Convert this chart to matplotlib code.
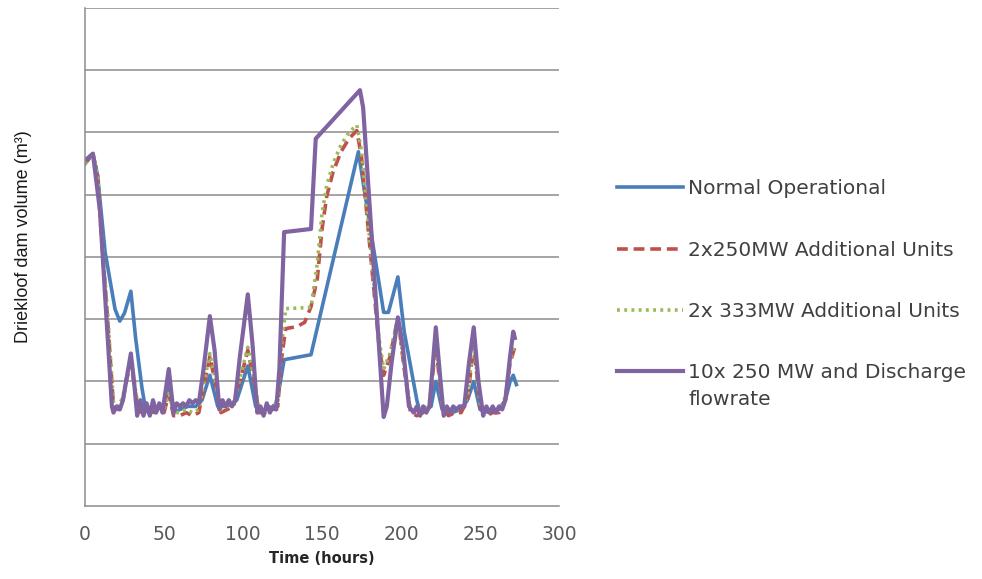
import matplotlib.pyplot as plt

# hours / volume (in gridline units, 0..8)
normal_h = [0, 5, 8, 12.7, 19, 22, 25, 29, 32, 36, 38, 40, 42, 44, 46, 49, 53, 56, 60, 65, 70, 74,
            79, 84, 90, 96, 103, 108, 112, 116, 120, 123, 126, 143, 173, 176, 189, 192, 198, 202,
            210, 212, 216, 219, 222, 226, 232, 238, 242, 246, 250, 256, 262, 266, 269, 271, 273]
normal_v = [5.5, 5.66, 5.3, 4.08, 3.16, 2.97, 3.1, 3.45, 2.7, 1.9, 1.6, 1.5, 1.6, 1.5, 1.6, 1.55,
            1.9, 1.5, 1.55, 1.6, 1.6, 1.7, 2.1, 1.6, 1.6, 1.7, 2.25, 1.6, 1.5, 1.6, 1.55, 1.9, 2.35,
            2.43, 5.69, 5.2, 3.11, 3.11, 3.68, 2.8, 1.7, 1.5, 1.55, 1.6, 2.0, 1.55, 1.5, 1.55, 1.7,
            2.0, 1.55, 1.5, 1.55, 1.7, 2.0, 2.1, 1.95]

add250_h = [0, 5, 8, 10, 14, 18, 21, 24, 26, 29, 32, 34, 38, 42, 46, 50, 53, 56, 60, 64, 68, 72, 75,
            79, 83, 86, 90, 94, 98, 103, 107, 110, 114, 118, 122, 124, 127, 134, 139, 143, 147, 150,
            153, 157, 162, 167, 172, 175, 186, 189, 193, 198, 202, 206, 210, 214, 218, 222, 226,
            230, 234, 238, 242, 246, 250, 254, 258, 262, 266, 269, 272]
add250_v = [5.5, 5.66, 5.3, 4.45, 3.1, 1.6, 1.55, 1.7, 2.0, 2.3, 1.8, 1.5, 1.55, 1.5, 1.55, 1.5, 1.8,
            1.45, 1.45, 1.5, 1.45, 1.5, 1.9, 2.4, 1.9, 1.5, 1.55, 1.6, 2.0, 2.5, 2.0, 1.5, 1.5, 1.55,
            1.6, 2.3, 2.85, 2.88, 2.95, 3.2, 3.65, 4.45, 4.98, 5.37, 5.69, 5.9, 6.03, 5.6, 2.6, 2.1,
            2.4, 3.03, 2.2, 1.5, 1.45, 1.5, 1.6, 2.6, 1.6, 1.45, 1.5, 1.5, 1.7, 2.6, 1.6, 1.45, 1.5,
            1.5, 1.7, 2.3, 2.55]

add333_h = [0, 5, 8, 10, 14, 18, 21, 24, 26, 29, 32, 34, 38, 42, 46, 50, 53, 56, 60, 64, 68, 72, 75,
            79, 83, 86, 90, 94, 98, 103, 107, 110, 114, 118, 122, 124, 127, 143, 147, 150, 153, 157,
            162, 167, 172, 175, 186, 189, 193, 198, 202, 206, 210, 214, 218, 222, 226, 230, 234,
            238, 242, 246, 250, 254, 258, 262, 266, 269, 272]
add333_v = [5.5, 5.66, 5.3, 4.5, 3.2, 1.65, 1.6, 1.75, 2.05, 2.35, 1.85, 1.55, 1.6, 1.55, 1.6, 1.55,
            1.85, 1.5, 1.5, 1.55, 1.5, 1.55, 1.95, 2.45, 1.95, 1.55, 1.6, 1.65, 2.05, 2.55, 2.05,
            1.55, 1.55, 1.6, 1.65, 2.5, 3.17, 3.19, 3.9, 4.7, 5.15, 5.5, 5.8, 6.0, 6.12, 5.7, 2.7,
            2.2, 2.45, 3.0, 2.25, 1.55, 1.5, 1.55, 1.65, 2.65, 1.65, 1.5, 1.55, 1.55, 1.75, 2.65,
            1.65, 1.5, 1.55, 1.55, 1.75, 2.35, 2.6]

discharge_h = [0, 5, 9.5, 12.7, 17, 18, 20, 22, 24, 26, 29, 31, 33, 35, 37, 39, 41, 43, 45, 47, 49,
               53, 56, 58, 60, 62, 64, 66, 68, 70, 72, 75, 79, 82, 85, 87, 89, 91, 93, 95, 98, 103,
               106, 109, 111, 113, 115, 117, 119, 121, 123, 126, 143, 146, 174, 176, 189, 191, 194,
               198, 201, 205, 208, 210, 212, 214, 216, 218, 222, 225, 227, 229, 231, 233, 235, 237,
               240, 243, 246, 249, 252, 254, 256, 258, 260, 262, 264, 266, 269, 271, 272]
discharge_v = [5.55, 5.66, 4.73, 3.37, 1.6, 1.5, 1.6, 1.55, 1.7, 2.0, 2.45, 2.0, 1.45, 1.7, 1.45, 1.65,
               1.45, 1.7, 1.5, 1.65, 1.5, 2.2, 1.5, 1.65, 1.6, 1.65, 1.6, 1.7, 1.65, 1.7, 1.65, 2.2,
               3.05, 2.5, 1.55, 1.7, 1.6, 1.7, 1.6, 1.7, 2.4, 3.4, 2.6, 1.5, 1.6, 1.45, 1.65, 1.5,
               1.6, 1.55, 2.2, 4.4, 4.45, 5.9, 6.68, 6.4, 1.43, 1.6, 2.3, 3.03, 2.6, 1.6, 1.5, 1.6,
               1.45, 1.6, 1.5, 1.6, 2.87, 2.0, 1.45, 1.6, 1.5, 1.6, 1.55, 1.6, 1.6, 2.3, 2.87, 2.0,
               1.45, 1.6, 1.5, 1.6, 1.5, 1.6, 1.55, 1.7, 2.4, 2.8, 2.7]

x_ticks = [0, 50, 100, 150, 200, 250, 300]

fig = plt.figure(figsize=(9.82, 5.79), dpi=100)
ax = fig.add_axes([0.0866, 0.1261, 0.4827, 0.8601])

lw = 2.6
ax.plot(normal_h, normal_v, color="#4a7ebb", lw=lw, label="Normal Operational")
ax.plot(add250_h, add250_v, color="#c0504d", lw=lw, ls=(0, (3, 1.6)),
        label="2x250MW Additional Units")
ax.plot(add333_h, add333_v, color="#9bbb59", lw=lw, ls=(0, (0.8, 1.2)),
        label="2x 333MW Additional Units")
ax.plot(discharge_h, discharge_v, color="#8064a2", lw=3.0,
        label="10x 250 MW and Discharge")

ax.set_xlim(0, 300)
ax.set_ylim(0, 8)
ax.set_xticks(x_ticks)
ax.set_yticks(range(1, 9))
ax.yaxis.set_ticklabels([])
ax.tick_params(axis="both", length=0)
ax.tick_params(axis="x", pad=14, labelsize=13.5, labelcolor="#595959")
ax.grid(axis="y", color="#8c8c8c", lw=1.1)
ax.set_axisbelow(True)
for s in ["top", "right"]:
    ax.spines[s].set_visible(False)
for s in ["left", "bottom"]:
    ax.spines[s].set_color("#8c8c8c")
    ax.spines[s].set_linewidth(1.1)

ax.set_xlabel("Time (hours)", fontsize=10.5, fontweight="bold", color="#262626", labelpad=5)
ax.set_ylabel("Driekloof dam volume (m³)", fontsize=13, family="Liberation Sans", color="#1a1a1a")
ax.yaxis.set_label_coords(-0.112, 0.54)

leg = fig.legend(loc="upper left", bbox_to_anchor=(0.628, 0.69), frameon=False,
                 fontsize=14.5, handlelength=3.3, handletextpad=0.25, labelspacing=2.1,
                 borderaxespad=0, borderpad=0)
for t in leg.get_texts():
    t.set_color("#404040")

fig.canvas.draw()
last = leg.get_texts()[3].get_window_extent()
yc = (last.y0 + last.y1) / 2 - 27
fig.text(last.x0 / fig.bbox.width, yc / fig.bbox.height, "flowrate",
         fontsize=14.5, color="#404040", va="center")

fig.savefig("out.png", dpi=100)
